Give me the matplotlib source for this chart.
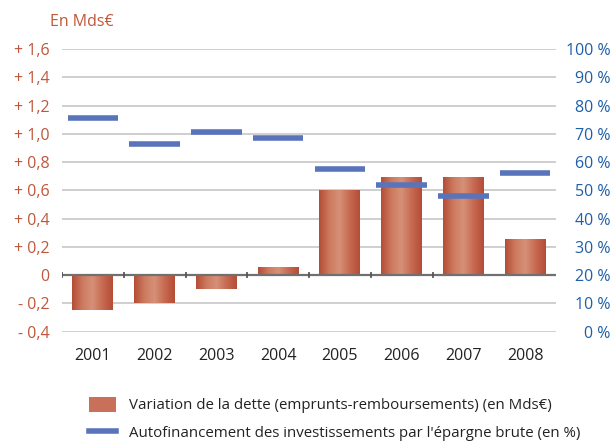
import matplotlib
matplotlib.use('Agg')
import matplotlib.pyplot as plt
import numpy as np
from matplotlib.colors import LinearSegmentedColormap
from matplotlib.patches import Patch
from matplotlib.lines import Line2D

plt.rcParams['font.family'] = ['Open Sans', 'DejaVu Sans']

annees = ['2001', '2002', '2003', '2004', '2005', '2006', '2007', '2008']
variation_dette = [-0.25, -0.20, -0.10, 0.05, 0.60, 0.69, 0.69, 0.25]
autofinancement = [75.5, 66.5, 70.5, 68.5, 57.5, 52, 48, 56]

left_ticks = [-0.4, -0.2, 0, 0.2, 0.4, 0.6, 0.8, 1.0, 1.2, 1.4, 1.6]
right_ticks = list(range(0, 101, 10))

rouge = '#c0573a'
bleu_txt = '#1f5fa8'
bleu_trait = '#5a74bb'
grille = '#cfcfcf'

fig = plt.figure(figsize=(6.11, 4.41), dpi=100)
ax = fig.add_axes([62 / 611, 1 - 331.7 / 441, (556 - 62) / 611, (331.7 - 49) / 441])

x = np.arange(len(annees))
largeur = 0.66

# barres avec un degrade horizontal
cmap = LinearSegmentedColormap.from_list('barre', ['#b54d37', '#cc7a5f', '#d69178', '#c76a51', '#b54d37'])
grad = np.linspace(0, 1, 64).reshape(1, -1)
for xi, v in zip(x, variation_dette):
    ax.imshow(grad, cmap=cmap, extent=[xi - largeur / 2, xi + largeur / 2, 0, v],
              aspect='auto', zorder=2, interpolation='bilinear')

ax.set_xlim(-0.5, len(annees) - 0.5)
ax.set_ylim(-0.4, 1.6)

for t in left_ticks:
    if t != 0:
        ax.axhline(t, color=grille, lw=1.4, zorder=1)
ax.axhline(0, color='#707070', lw=1.6, zorder=3)
ax.vlines(np.arange(-0.5, 6, 1.0), -0.02, 0.02, color='#505050', lw=1.2, zorder=3)

def fmt_left(v):
    if abs(v) < 1e-9:
        return '0'
    s = ('%.1f' % abs(v)).replace('.', ',')
    return ('+ ' if v > 0 else '- ') + s

ax.set_yticks(left_ticks)
ax.set_yticklabels([fmt_left(v) for v in left_ticks], color=rouge, fontsize=11.5)
ax.tick_params(axis='y', length=0, pad=9)
ax.set_xticks(x)
ax.set_xticklabels(annees, fontsize=11.5, color='#222222')
ax.tick_params(axis='x', length=0, pad=12)
for s in ax.spines.values():
    s.set_visible(False)

ax2 = ax.twinx()
ax2.set_ylim(0, 100)
ax2.hlines(autofinancement, x - 0.41, x + 0.41, color=bleu_trait, lw=4, zorder=4)
ax2.set_yticks(right_ticks)
ax2.set_yticklabels(['%d %%' % v for v in right_ticks], color=bleu_txt, fontsize=11.5)
for lab in ax2.get_yticklabels():
    lab.set_horizontalalignment('right')
ax2.tick_params(axis='y', length=0, pad=39)
for s in ax2.spines.values():
    s.set_visible(False)

fig.text(50 / 611, 1 - 22 / 441, 'En Mds€', color=rouge, fontsize=11.5, va='center')

handles = [Patch(facecolor='#c8705a', edgecolor='none'),
           Line2D([0], [0], color=bleu_trait, lw=4)]
labels = ['Variation de la dette (emprunts-remboursements) (en Mds€)',
          "Autofinancement des investissements par l'épargne brute (en %)"]
fig.legend(handles, labels, loc='upper left', bbox_to_anchor=(78 / 611, 1 - 386 / 441),
           frameon=False, fontsize=10.8, handlelength=1.8, handleheight=1.2,
           handletextpad=0.9, labelspacing=0.75, labelcolor='#222222',
           borderpad=0.2)

fig.savefig('out.png', dpi=100)
